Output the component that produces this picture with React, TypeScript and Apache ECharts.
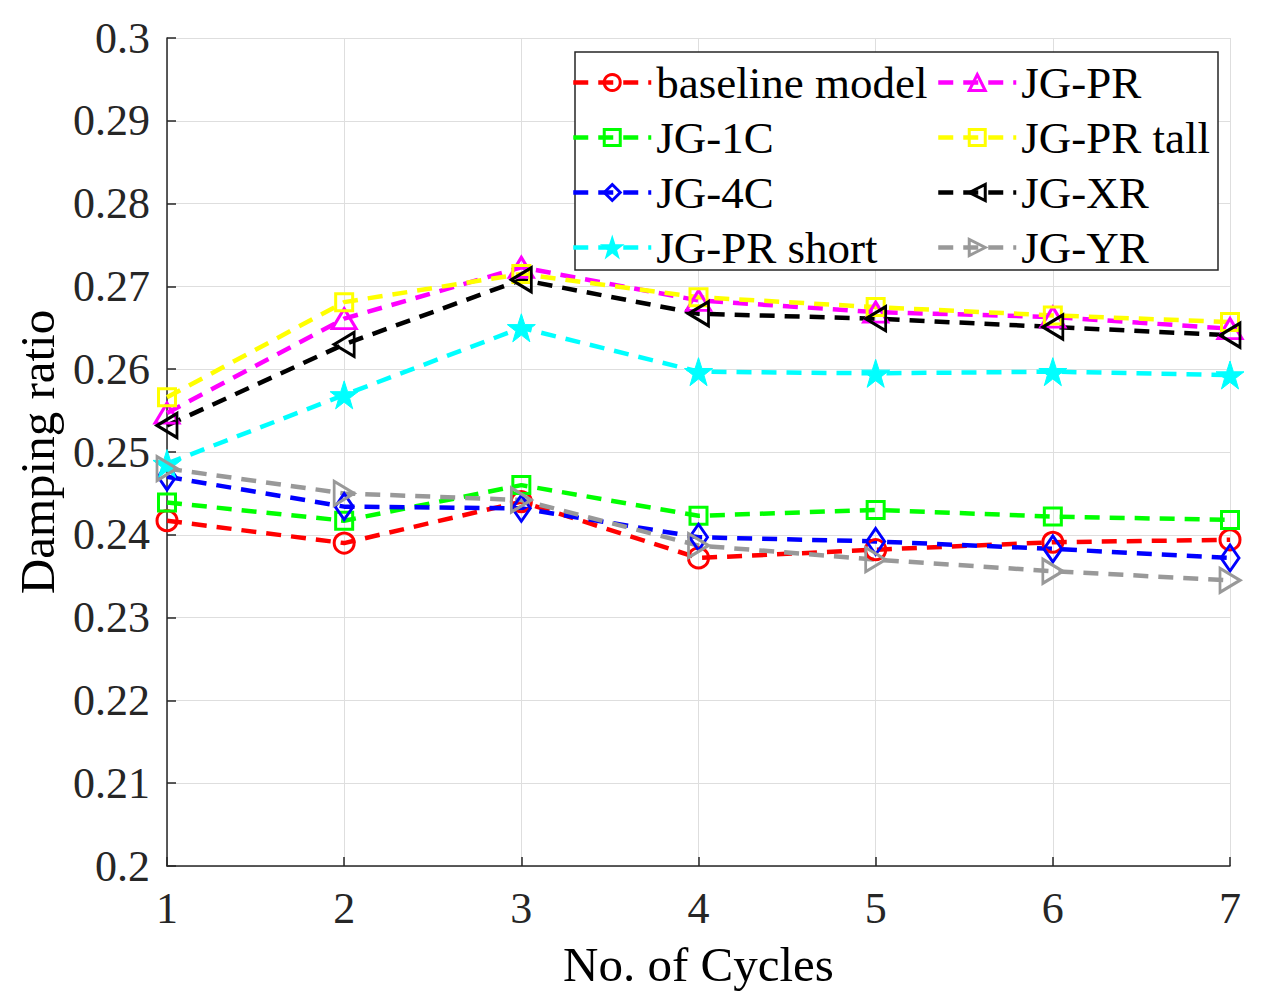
import React, { useEffect, useRef } from "react";
import * as echarts from "echarts";

const cycles = [1, 2, 3, 4, 5, 6, 7];
const baselineModel = [0.2417, 0.239, 0.244, 0.2372, 0.2382, 0.2391, 0.2394];
const jg1C = [0.2439, 0.2417, 0.246, 0.2423, 0.243, 0.2422, 0.2418];
const jg4C = [0.247, 0.2434, 0.2432, 0.2397, 0.2392, 0.2383, 0.2372];
const jgPRshort = [0.2486, 0.2569, 0.265, 0.2597, 0.2595, 0.2597, 0.2593];
const jgPR = [0.2547, 0.2661, 0.2723, 0.2683, 0.2669, 0.2663, 0.2649];
const jgPRtall = [0.2566, 0.2681, 0.2715, 0.2687, 0.2675, 0.2665, 0.2657];
const jgXR = [0.2532, 0.263, 0.2708, 0.2667, 0.2661, 0.2651, 0.2641];
const jgYR = [0.248, 0.245, 0.2442, 0.2387, 0.237, 0.2356, 0.2345];

const FONT = "'Liberation Serif', 'Times New Roman', serif";
const STAR =
  "path://M50,0 L61.8,35.1 L98.1,35.1 L68.8,56.7 L79.4,90.9 L50,69.1 L20.6,90.9 L31.2,56.7 L1.9,35.1 L38.2,35.1 Z";

type Def = {
  name: string;
  data: number[];
  color: string;
  symbol: string;
  size: number | number[];
  rotate?: number;
  filled?: boolean;
};

const defs: Def[] = [
  { name: "baseline model", data: baselineModel, color: "#ff0000", symbol: "circle", size: 20 },
  { name: "JG-1C", data: jg1C, color: "#00ff00", symbol: "rect", size: 17 },
  { name: "JG-4C", data: jg4C, color: "#0000ff", symbol: "diamond", size: [18, 26] },
  { name: "JG-PR short", data: jgPRshort, color: "#00ffff", symbol: STAR, size: 28, filled: true },
  { name: "JG-PR", data: jgPR, color: "#ff00ff", symbol: "triangle", size: [24, 20] },
  { name: "JG-PR tall", data: jgPRtall, color: "#ffff00", symbol: "rect", size: 17 },
  { name: "JG-XR", data: jgXR, color: "#000000", symbol: "triangle", size: [24, 20], rotate: 90 },
  { name: "JG-YR", data: jgYR, color: "#999999", symbol: "triangle", size: [24, 20], rotate: -90 },
];

export default function App() {
  const ref = useRef<HTMLDivElement>(null);
  useEffect(() => {
    if (!ref.current) return;
    const chart = echarts.init(ref.current, null, { renderer: "svg" });
    const series = defs.map((d) => ({
      name: d.name,
      type: "line",
      data: d.data.map((v, i) => [cycles[i], v]),
      symbol: d.symbol,
      symbolSize: d.size,
      symbolRotate: d.rotate || 0,
      showAllSymbol: true,
      lineStyle: { color: d.color, width: 4.5, type: [15, 10] },
      itemStyle: d.filled
        ? { color: d.color, borderColor: d.color, borderWidth: 1 }
        : { color: "rgba(255,255,255,0)", borderColor: d.color, borderWidth: 3 },
      emphasis: { disabled: true },
    }));
    const legendCommon = {
      orient: "vertical",
      itemWidth: 78,
      itemHeight: 20,
      itemGap: 10,
      padding: 0,
      z: 10,
      selectedMode: false,
      lineStyle: { width: 4.5 },
      itemStyle: { borderWidth: 3 },
      textStyle: { fontFamily: FONT, fontSize: 45, color: "#000", lineHeight: 44 },
    };
    chart.setOption({
      animation: false,
      backgroundColor: "#fff",
      grid: { left: 167, right: 37, top: 38, bottom: 140 },
      xAxis: {
        type: "value",
        min: 1,
        max: 7,
        interval: 1,
        name: "No. of Cycles",
        nameLocation: "middle",
        nameGap: 74,
        nameTextStyle: { fontFamily: FONT, fontSize: 49, color: "#000" },
        axisLine: { show: true, lineStyle: { color: "#262626", width: 1.5 } },
        axisTick: { show: true, inside: true, length: 9, lineStyle: { color: "#262626", width: 1.5 } },
        axisLabel: { fontFamily: FONT, fontSize: 44, color: "#262626", margin: 20 },
        splitLine: { show: true, lineStyle: { color: "#dedede", width: 1 } },
      },
      yAxis: {
        type: "value",
        min: 0.2,
        max: 0.3,
        interval: 0.01,
        name: "Damping ratio",
        nameLocation: "middle",
        nameGap: 102,
        nameTextStyle: { fontFamily: FONT, fontSize: 49, color: "#000" },
        axisLine: { show: true, lineStyle: { color: "#262626", width: 1.5 } },
        axisTick: { show: true, inside: true, length: 9, lineStyle: { color: "#262626", width: 1.5 } },
        axisLabel: {
          fontFamily: FONT,
          fontSize: 44,
          color: "#262626",
          margin: 17,
          formatter: (v: number) => String(Math.round(v * 100) / 100),
        },
        splitLine: { show: true, lineStyle: { color: "#dedede", width: 1 } },
      },
      legend: [
        { ...legendCommon, left: 571, top: 60, data: ["baseline model", "JG-1C", "JG-4C", "JG-PR short"] },
        { ...legendCommon, left: 936, top: 60, data: ["JG-PR", "JG-PR tall", "JG-XR", "JG-YR"] },
      ],
      graphic: [
        {
          type: "rect",
          z: 5,
          shape: { x: 575, y: 52, width: 643, height: 218 },
          style: { fill: "#fff", stroke: "#262626", lineWidth: 1.5 },
        },
      ],
      series,
    });
    return () => chart.dispose();
  }, []);
  return (
    <div
      ref={ref}
      style={{ position: "fixed", left: 0, top: 0, width: 1267, height: 1006 }}
    />
  );
}
